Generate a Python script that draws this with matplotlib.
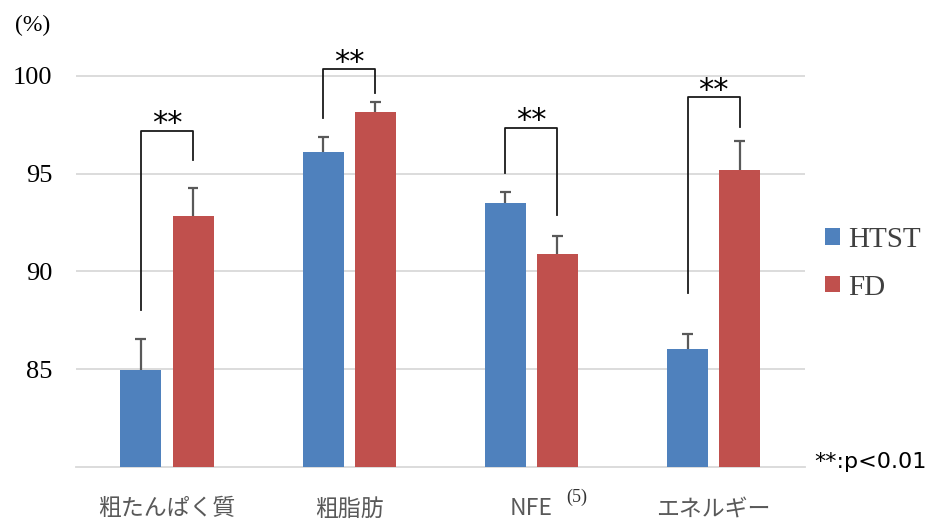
import matplotlib.pyplot as plt
import numpy as np

plt.rcParams['font.family'] = ['Noto Sans CJK JP', 'DejaVu Sans']

categories = ['粗たんぱく質', '粗脂肪', 'NFE', 'エネルギー']
htst = [84.95, 96.1, 93.5, 86.05]
fd = [92.85, 98.15, 90.9, 95.2]
htst_err = [1.6, 0.8, 0.55, 0.75]
fd_err = [1.4, 0.5, 0.9, 1.45]
# significance brackets: left foot, top, right foot
br_left = [88.05, 97.85, 95.05, 88.9]
br_top = [97.2, 100.35, 97.35, 98.9]
br_right = [95.7, 99.15, 92.9, 97.4]
yticks = [85, 90, 95, 100]

blue = '#4F81BD'
red = '#C0504D'
serif = 'Liberation Serif'

fig = plt.figure(figsize=(9.25, 5.24), dpi=100)
ax = fig.add_axes([0.082, 0.109, 0.788, 0.802])

x = np.arange(len(categories))
off = 0.143
w = 0.225
cap = 0.03
ax.bar(x - off, htst, w, color=blue, label='HTST', zorder=3)
ax.bar(x + off, fd, w, color=red, label='FD', zorder=3)

# upper-only error bars
for xs, vals, errs in [(x - off, htst, htst_err), (x + off, fd, fd_err)]:
    tops = np.array(vals) + np.array(errs)
    ax.vlines(xs, vals, tops, color='#595959', lw=1.6, zorder=4)
    ax.hlines(tops, xs - cap, xs + cap, color='#595959', lw=1.6, zorder=4)

for i in range(len(categories)):
    ax.plot([x[i] - off, x[i] - off, x[i] + off, x[i] + off],
            [br_left[i], br_top[i], br_top[i], br_right[i]],
            color='#1a1a1a', lw=1.3, clip_on=False, zorder=4)
    ax.text(x[i], br_top[i] + 0.35, '**', ha='center', va='center',
            fontsize=22, family='DejaVu Sans')

ax.set_xlim(-0.5, 3.5)
ax.set_ylim(80, 101.5)
ax.set_yticks(yticks)
ax.set_yticklabels([str(t) for t in yticks], family=serif, fontsize=19)
ax.grid(axis='y', color='#D9D9D9', lw=1.3, zorder=0)
ax.set_axisbelow(True)
for s in ['top', 'right', 'left']:
    ax.spines[s].set_visible(False)
ax.spines['bottom'].set_color('#D9D9D9')
ax.spines['bottom'].set_linewidth(1.3)
ax.tick_params(axis='both', length=0)
ax.tick_params(axis='y', pad=17)
ax.tick_params(axis='x', pad=22)
ax.set_xticks(x)
ax.set_xticklabels(categories, fontsize=16.5, color='#595959')

ax.text(2.19, 78.42, '(5)', family=serif, fontsize=13, color='#333333',
        ha='left', va='center', clip_on=False)
fig.text(0.016, 0.952, '(%)', family=serif, fontsize=17, ha='left', va='center')
fig.text(0.88, 0.118, '**:p<0.01', fontsize=16, ha='left', va='center',
         family='DejaVu Sans')

fig.legend(loc='center left', bbox_to_anchor=(0.892, 0.497), frameon=False,
           prop={'family': serif, 'size': 21}, handlelength=0.5,
           handleheight=0.5, handletextpad=0.3, labelspacing=0.75,
           borderpad=0, borderaxespad=0, labelcolor='#404040')

plt.savefig('out.png', dpi=100)
